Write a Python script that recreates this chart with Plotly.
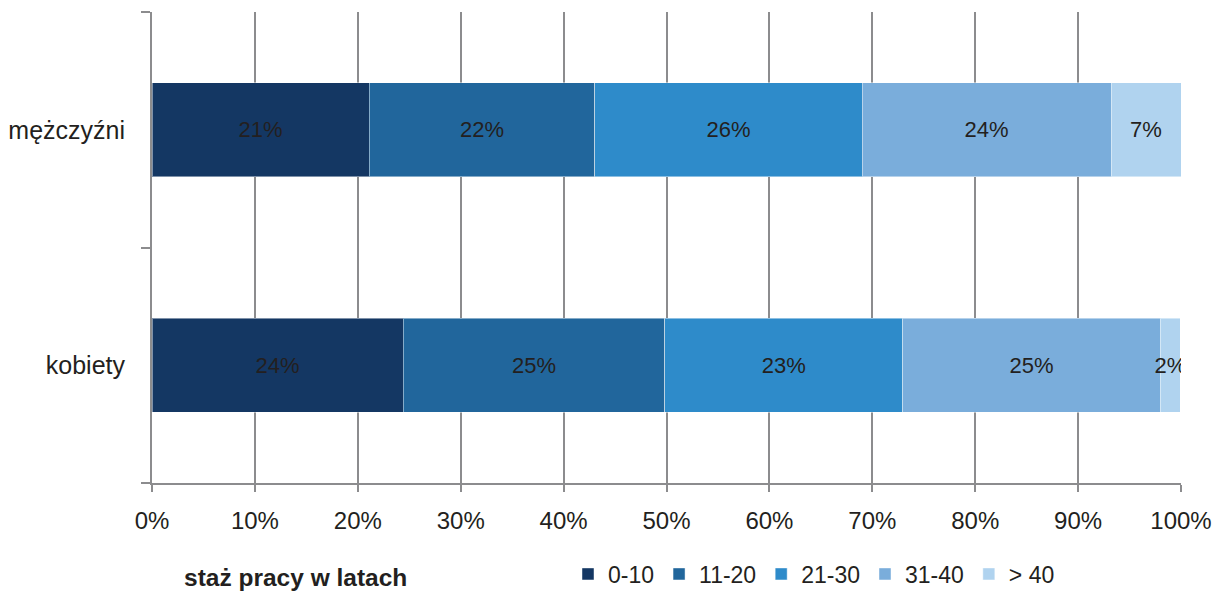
import plotly.graph_objects as go

categories = ["kobiety", "mężczyźni"]
series_names = ["0-10", "11-20", "21-30", "31-40", "> 40"]
values = {
    "0-10":  [24.4, 21.1],
    "11-20": [25.45, 21.95],
    "21-30": [23.1, 25.95],
    "31-40": [25.05, 24.2],
    "> 40":  [1.95, 6.8],
}
colors = ["#143763", "#21669c", "#2e8bca", "#7aaddb", "#b0d3ef"]
x_ticks = list(range(0, 101, 10))
x_tick_labels = [f"{t}%" for t in x_ticks]

FONT = "Liberation Sans, Arial, sans-serif"
TXT = "#231f20"
GRID = "#8c8c8e"

fig = go.Figure()
for name, col in zip(series_names, colors):
    fig.add_trace(go.Bar(
        y=categories, x=values[name], name=name, orientation="h",
        marker=dict(color=col, line=dict(color="rgba(255,255,255,0.45)", width=1)),
        width=0.4,
        texttemplate="%{x:.0f}%", textposition="inside", insidetextanchor="middle",
        textangle=0, constraintext="none",
        textfont=dict(family=FONT, size=22, color=TXT),
        hoverinfo="skip",
    ))

fig.update_layout(
    barmode="stack",
    width=1213, height=591,
    margin=dict(l=152, r=32, t=12, b=108, autoexpand=False),
    paper_bgcolor="white", plot_bgcolor="white",
    font=dict(family=FONT, color=TXT, size=24),
    showlegend=True,
    legend=dict(orientation="h", traceorder="normal",
                x=(568 - 152) / 1029, xanchor="left", y=-(574 - 483) / 471, yanchor="middle",
                font=dict(family=FONT, size=23, color=TXT),
                itemwidth=30, tracegroupgap=0, bgcolor="rgba(0,0,0,0)"),
    annotations=[dict(text="<b>staż pracy w latach</b>", xref="paper", yref="paper",
                      x=(295 - 152) / 1029, y=-(577 - 483) / 471, xanchor="center", yanchor="middle",
                      showarrow=False, font=dict(family=FONT, size=24.5, color=TXT))],
)
fig.update_xaxes(
    range=[0, 100], tickvals=x_ticks, ticktext=x_tick_labels,
    showgrid=True, gridcolor=GRID, gridwidth=2,
    showline=True, linecolor=GRID, linewidth=2,
    ticks="outside", ticklen=7, tickcolor=GRID, tickwidth=2,
    tickfont=dict(family=FONT, size=24, color=TXT), ticklabeloverflow="allow",
    ticklabelstandoff=8,
    zeroline=False, fixedrange=True,
)
fig.update_yaxes(
    categoryorder="array", categoryarray=categories,
    showgrid=False, showline=True, linecolor=GRID, linewidth=2,
    ticks="outside", ticklen=9, tickcolor=GRID, tickwidth=2, tickson="boundaries",
    tickfont=dict(family=FONT, size=25, color=TXT), ticklabelstandoff=20,
    zeroline=False, fixedrange=True,
)

fig.write_html("out.html", config={"displayModeBar": False, "staticPlot": True},
               post_script="document.body.style.margin='0';document.body.style.overflow='hidden';")
